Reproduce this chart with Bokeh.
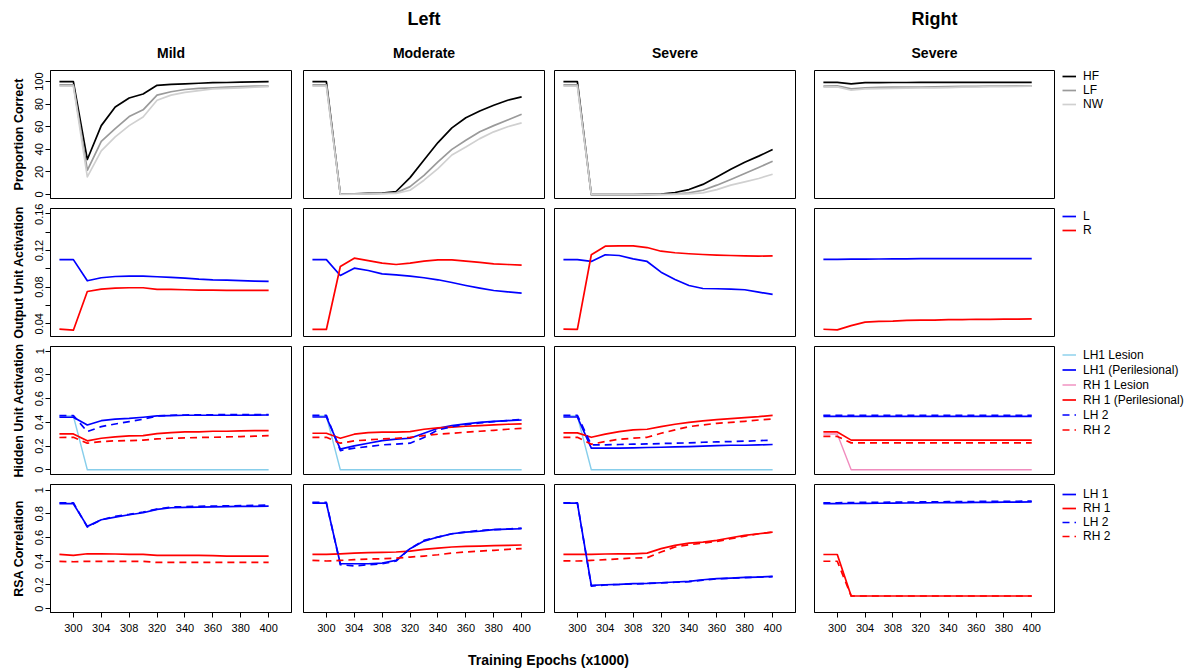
from bokeh.plotting import figure
from bokeh.layouts import column, row
from bokeh.models import Range1d, LinearAxis, FixedTicker, Title, Legend, LegendItem
from bokeh.embed import file_html
from bokeh.resources import INLINE

FONT = "Liberation Sans"

# ---------------- data ----------------
epochs = [298, 300, 302, 304, 306, 308, 310, 320, 330, 340, 350, 360, 370, 380, 390, 400]
x_tick_labels = ["300", "304", "308", "320", "340", "360", "380", "400"]
severity = ["Mild", "Moderate", "Severe", "Severe"]
hemisphere_titles = {1: "Left", 3: "Right"}
row_labels = ["Proportion Correct", "Output Unit Activation", "Hidden Unit Activation", "RSA Correlation"]

# Proportion correct
mild_hf = [100, 100, 31, 61, 77.5, 85.5, 89, 96.7, 97.5, 98, 98.5, 99, 99.2, 99.5, 99.7, 100]
mild_lf = [97, 97, 21.5, 47, 58.4, 69, 75, 88, 91, 93, 94, 94.5, 95, 95.5, 96, 96]
mild_nw = [96, 96, 15.6, 38.6, 51, 61, 68.7, 83.5, 88, 90.5, 92, 93.5, 94, 94.5, 95, 95.5]
mod_hf = [100, 100, 0.3, 0.6, 1, 1.3, 2.7, 15, 30.5, 46, 59, 68, 74, 79, 83.5, 86.4]
mod_lf = [97, 97, 0.3, 0.5, 0.8, 1, 1.5, 7, 17, 29, 40, 48, 55.5, 61, 66, 71]
mod_nw = [96, 96, 0.2, 0.3, 0.5, 0.7, 1, 3.8, 12.7, 23, 35, 42, 49.5, 55.5, 60, 63.4]
sev_hf = [100, 100, 0, 0, 0, 0, 0.1, 0.3, 1.8, 4.4, 9, 15.6, 22.4, 28.6, 34, 39.8]
sev_lf = [97, 97, 0, 0, 0, 0, 0, 0.1, 0.5, 1.5, 3.8, 8.3, 13.3, 18.6, 24, 29.5]
sev_nw = [96, 96, 0, 0, 0, 0, 0, 0, 0.2, 0.6, 1.5, 4.4, 8.3, 11.2, 14.2, 18]
right_hf = [99.3, 99.3, 98, 99, 99, 99.2, 99.2, 99.3, 99.3, 99.3, 99.3, 99.3, 99.3, 99.3, 99.3, 99.3]
right_lf = [96, 96.3, 93.5, 94.5, 94.8, 95, 95, 95.2, 95.3, 95.5, 95.7, 95.8, 96, 96, 96.2, 96.2]
right_nw = [95, 95.3, 92.3, 93.5, 93.8, 94, 94.2, 94.3, 94.5, 94.7, 95, 95.2, 95.5, 95.6, 95.8, 96]

# Output unit activation
mild_out_l = [0.110, 0.110, 0.0869, 0.0902, 0.0916, 0.092, 0.092, 0.0913, 0.0906, 0.0898, 0.0887, 0.088, 0.0877, 0.087, 0.0866, 0.0862]
mild_out_r = [0.0341, 0.033, 0.0752, 0.0778, 0.0789, 0.0793, 0.0793, 0.0775, 0.0775, 0.0771, 0.0767, 0.0767, 0.0764, 0.0764, 0.0764, 0.0764]
mod_out_l = [0.110, 0.110, 0.0927, 0.1007, 0.0981, 0.0945, 0.0934, 0.0920, 0.0902, 0.088, 0.085, 0.0818, 0.0789, 0.0763, 0.0749, 0.0734]
mod_out_r = [0.0338, 0.0338, 0.1025, 0.1116, 0.109, 0.1061, 0.1047, 0.1061, 0.1083, 0.1098, 0.1098, 0.1083, 0.1069, 0.1054, 0.1047, 0.1039]
sev_out_l = [0.110, 0.110, 0.108, 0.1153, 0.1145, 0.1109, 0.108, 0.0963, 0.0883, 0.0818, 0.0785, 0.0782, 0.0778, 0.0771, 0.0745, 0.072]
sev_out_r = [0.0341, 0.0338, 0.1153, 0.1247, 0.125, 0.125, 0.1232, 0.1192, 0.1175, 0.1164, 0.1156, 0.1149, 0.1145, 0.1142, 0.1138, 0.1142]
right_out_l = [0.1103, 0.1103, 0.1105, 0.1106, 0.1107, 0.1108, 0.1109, 0.111, 0.111, 0.111, 0.111, 0.111, 0.111, 0.111, 0.111, 0.111]
right_out_r = [0.034, 0.0333, 0.038, 0.0418, 0.0425, 0.0429, 0.0437, 0.044, 0.044, 0.0446, 0.0446, 0.0449, 0.0447, 0.0451, 0.0451, 0.0453]

# Hidden unit activation
mild_lh1_lesion = [0.454, 0.454, 0, 0, 0, 0, 0, 0, 0, 0, 0, 0, 0, 0, 0, 0]
mild_lh1 = [0.443, 0.443, 0.378, 0.414, 0.428, 0.434, 0.443, 0.454, 0.457, 0.46, 0.46, 0.46, 0.46, 0.46, 0.461, 0.462]
mild_rh1 = [0.302, 0.302, 0.244, 0.266, 0.277, 0.286, 0.288, 0.305, 0.314, 0.319, 0.319, 0.325, 0.325, 0.328, 0.33, 0.33]
mild_lh2 = [0.457, 0.457, 0.322, 0.364, 0.386, 0.406, 0.426, 0.454, 0.46, 0.462, 0.463, 0.464, 0.465, 0.465, 0.465, 0.465]
mild_rh2 = [0.272, 0.274, 0.224, 0.238, 0.244, 0.246, 0.25, 0.26, 0.266, 0.269, 0.272, 0.274, 0.277, 0.28, 0.283, 0.288]
mod_lh1_lesion = [0.454, 0.454, 0, 0, 0, 0, 0, 0, 0, 0, 0, 0, 0, 0, 0, 0]
mod_lh1 = [0.445, 0.445, 0.174, 0.202, 0.224, 0.246, 0.258, 0.266, 0.308, 0.35, 0.372, 0.387, 0.4, 0.409, 0.415, 0.42]
mod_rh1 = [0.308, 0.308, 0.266, 0.3, 0.314, 0.317, 0.317, 0.322, 0.342, 0.353, 0.359, 0.367, 0.373, 0.378, 0.384, 0.387]
mod_lh2 = [0.459, 0.459, 0.162, 0.182, 0.196, 0.21, 0.216, 0.224, 0.272, 0.336, 0.364, 0.381, 0.395, 0.406, 0.415, 0.426]
mod_rh2 = [0.274, 0.274, 0.224, 0.244, 0.252, 0.26, 0.266, 0.274, 0.288, 0.3, 0.308, 0.317, 0.325, 0.333, 0.342, 0.35]
sev_lh1_lesion = [0.454, 0.454, 0, 0, 0, 0, 0, 0, 0, 0, 0, 0, 0, 0, 0, 0]
sev_lh1 = [0.445, 0.445, 0.182, 0.182, 0.182, 0.185, 0.188, 0.19, 0.193, 0.196, 0.199, 0.204, 0.207, 0.207, 0.21, 0.213]
sev_rh1 = [0.311, 0.311, 0.274, 0.3, 0.322, 0.336, 0.342, 0.364, 0.384, 0.4, 0.412, 0.423, 0.431, 0.44, 0.448, 0.459]
sev_lh2 = [0.459, 0.459, 0.21, 0.21, 0.213, 0.216, 0.218, 0.221, 0.224, 0.227, 0.232, 0.235, 0.238, 0.241, 0.246, 0.249]
sev_rh2 = [0.274, 0.274, 0.216, 0.238, 0.258, 0.266, 0.274, 0.308, 0.336, 0.364, 0.378, 0.392, 0.4, 0.409, 0.42, 0.429]
right_rh1_lesion = [0.302, 0.302, 0, 0, 0, 0, 0, 0, 0, 0, 0, 0, 0, 0, 0, 0]
right_lh1 = [0.45, 0.45, 0.45, 0.45, 0.45, 0.45, 0.45, 0.45, 0.45, 0.45, 0.45, 0.45, 0.45, 0.45, 0.45, 0.45]
right_rh1 = [0.319, 0.319, 0.25, 0.25, 0.25, 0.25, 0.25, 0.25, 0.25, 0.25, 0.25, 0.25, 0.25, 0.25, 0.25, 0.25]
right_lh2 = [0.46, 0.46, 0.46, 0.46, 0.46, 0.46, 0.46, 0.46, 0.46, 0.46, 0.46, 0.46, 0.46, 0.46, 0.46, 0.46]
right_rh2 = [0.281, 0.281, 0.227, 0.227, 0.227, 0.227, 0.227, 0.227, 0.227, 0.227, 0.227, 0.227, 0.227, 0.227, 0.227, 0.227]

# RSA correlation
mild_rsa_lh1 = [0.885, 0.885, 0.694, 0.75, 0.772, 0.792, 0.809, 0.837, 0.851, 0.854, 0.857, 0.858, 0.86, 0.862, 0.863, 0.865]
mild_rsa_rh1 = [0.458, 0.449, 0.463, 0.463, 0.461, 0.458, 0.458, 0.449, 0.449, 0.449, 0.449, 0.447, 0.444, 0.444, 0.444, 0.444]
mild_rsa_lh2 = [0.893, 0.893, 0.688, 0.75, 0.778, 0.795, 0.815, 0.84, 0.857, 0.86, 0.863, 0.865, 0.867, 0.869, 0.871, 0.874]
mild_rsa_rh2 = [0.399, 0.396, 0.399, 0.399, 0.399, 0.399, 0.399, 0.39, 0.39, 0.39, 0.39, 0.39, 0.39, 0.39, 0.39, 0.39]
mod_rsa_lh1 = [0.89, 0.89, 0.379, 0.379, 0.379, 0.385, 0.407, 0.506, 0.57, 0.604, 0.632, 0.646, 0.654, 0.666, 0.671, 0.674]
mod_rsa_rh1 = [0.458, 0.458, 0.463, 0.469, 0.472, 0.475, 0.478, 0.486, 0.5, 0.511, 0.52, 0.525, 0.528, 0.531, 0.534, 0.537]
mod_rsa_lh2 = [0.896, 0.896, 0.371, 0.36, 0.371, 0.379, 0.402, 0.506, 0.576, 0.604, 0.632, 0.646, 0.66, 0.666, 0.671, 0.68]
mod_rsa_rh2 = [0.407, 0.402, 0.407, 0.413, 0.419, 0.421, 0.427, 0.435, 0.444, 0.455, 0.469, 0.478, 0.486, 0.492, 0.5, 0.506]
sev_rsa_lh1 = [0.89, 0.89, 0.197, 0.202, 0.205, 0.211, 0.213, 0.219, 0.225, 0.23, 0.244, 0.253, 0.258, 0.264, 0.267, 0.272]
sev_rsa_rh1 = [0.458, 0.458, 0.458, 0.461, 0.463, 0.463, 0.469, 0.506, 0.534, 0.553, 0.562, 0.576, 0.598, 0.618, 0.632, 0.646]
sev_rsa_lh2 = [0.893, 0.893, 0.191, 0.2, 0.204, 0.209, 0.212, 0.218, 0.223, 0.228, 0.241, 0.251, 0.256, 0.262, 0.266, 0.27]
sev_rsa_rh2 = [0.404, 0.402, 0.407, 0.413, 0.421, 0.427, 0.43, 0.478, 0.52, 0.539, 0.553, 0.567, 0.59, 0.612, 0.632, 0.646]
right_rsa_lh1 = [0.885, 0.885, 0.887, 0.888, 0.889, 0.89, 0.891, 0.892, 0.893, 0.894, 0.895, 0.896, 0.897, 0.898, 0.899, 0.9]
right_rsa_rh1 = [0.457, 0.457, 0.107, 0.107, 0.107, 0.107, 0.107, 0.107, 0.107, 0.107, 0.107, 0.107, 0.107, 0.107, 0.107, 0.107]
right_rsa_lh2 = [0.893, 0.893, 0.895, 0.896, 0.897, 0.898, 0.899, 0.9, 0.901, 0.902, 0.903, 0.904, 0.905, 0.905, 0.906, 0.907]
right_rsa_rh2 = [0.4, 0.4, 0.107, 0.107, 0.107, 0.107, 0.107, 0.107, 0.107, 0.107, 0.107, 0.107, 0.107, 0.107, 0.107, 0.107]

# ---------------- series organisation ----------------
panel_series = [
    [  # proportion correct
        [("HF", mild_hf), ("LF", mild_lf), ("NW", mild_nw)],
        [("HF", mod_hf), ("LF", mod_lf), ("NW", mod_nw)],
        [("HF", sev_hf), ("LF", sev_lf), ("NW", sev_nw)],
        [("HF", right_hf), ("LF", right_lf), ("NW", right_nw)],
    ],
    [  # output units
        [("L", mild_out_l), ("R", mild_out_r)],
        [("L", mod_out_l), ("R", mod_out_r)],
        [("L", sev_out_l), ("R", sev_out_r)],
        [("L", right_out_l), ("R", right_out_r)],
    ],
    [  # hidden units
        [("LH1 Lesion", mild_lh1_lesion), ("LH1 (Perilesional)", mild_lh1), ("RH 1 (Perilesional)", mild_rh1), ("LH 2", mild_lh2), ("RH 2", mild_rh2)],
        [("LH1 Lesion", mod_lh1_lesion), ("LH1 (Perilesional)", mod_lh1), ("RH 1 (Perilesional)", mod_rh1), ("LH 2", mod_lh2), ("RH 2", mod_rh2)],
        [("LH1 Lesion", sev_lh1_lesion), ("LH1 (Perilesional)", sev_lh1), ("RH 1 (Perilesional)", sev_rh1), ("LH 2", sev_lh2), ("RH 2", sev_rh2)],
        [("RH 1 Lesion", right_rh1_lesion), ("LH1 (Perilesional)", right_lh1), ("RH 1 (Perilesional)", right_rh1), ("LH 2", right_lh2), ("RH 2", right_rh2)],
    ],
    [  # RSA
        [("LH 1", mild_rsa_lh1), ("RH 1", mild_rsa_rh1), ("LH 2", mild_rsa_lh2), ("RH 2", mild_rsa_rh2)],
        [("LH 1", mod_rsa_lh1), ("RH 1", mod_rsa_rh1), ("LH 2", mod_rsa_lh2), ("RH 2", mod_rsa_rh2)],
        [("LH 1", sev_rsa_lh1), ("RH 1", sev_rsa_rh1), ("LH 2", sev_rsa_lh2), ("RH 2", sev_rsa_rh2)],
        [("LH 1", right_rsa_lh1), ("RH 1", right_rsa_rh1), ("LH 2", right_rsa_lh2), ("RH 2", right_rsa_rh2)],
    ],
]

legend_order = [
    ["HF", "LF", "NW"],
    ["L", "R"],
    ["LH1 Lesion", "LH1 (Perilesional)", "RH 1 Lesion", "RH 1 (Perilesional)", "LH 2", "RH 2"],
    ["LH 1", "RH 1", "LH 2", "RH 2"],
]

series_style = {
    "HF": dict(line_color="black", line_width=1.7),
    "LF": dict(line_color="#9a9a9a", line_width=1.7),
    "NW": dict(line_color="#d0d0d0", line_width=1.7),
    "L": dict(line_color="blue", line_width=1.7),
    "R": dict(line_color="red", line_width=1.7),
    "LH1 Lesion": dict(line_color="skyblue", line_width=1.4),
    "RH 1 Lesion": dict(line_color="#f08cbe", line_width=1.4),
    "LH1 (Perilesional)": dict(line_color="blue", line_width=1.7),
    "RH 1 (Perilesional)": dict(line_color="red", line_width=1.7),
    "LH 1": dict(line_color="blue", line_width=1.7),
    "RH 1": dict(line_color="red", line_width=1.7),
    "LH 2": dict(line_color="blue", line_width=1.7, line_dash="7 5"),
    "RH 2": dict(line_color="red", line_width=1.7, line_dash="7 5"),
}

y_ranges = [(-3.5, 109.8), (0.0261, 0.1658), (-0.04, 1.04), (-0.032, 1.047)]
y_major = [[0, 20, 40, 60, 80, 100], [0.04, 0.08, 0.12, 0.16], [0, 0.2, 0.4, 0.6, 0.8, 1], [0, 0.2, 0.4, 0.6, 0.8, 1]]
y_minor = [[], [0.06, 0.10, 0.14], [], []]
y_labels = [["0", "20", "40", "60", "80", "100"], ["0.04", "0.08", "0.12", "0.16"],
            ["0", "0.2", "0.4", "0.6", "0.8", "1"], ["0", "0.2", "0.4", "0.6", "0.8", "1"]]

# ---------------- layout geometry ----------------
col_borders = [(50, 6), (6, 4), (6, 9), (10, 133)]
col_frame_w = [241, 241, 241, 240]
row_borders = [(70, 5), (5, 5), (5, 5), (5, 35)]
FRAME_H = 128
legend_row_h = [14, 14, 15, 14]
legend_top_offset = [-1, 1, 1, 3]

xs = list(range(len(epochs)))
x_tick_pos = [epochs.index(int(t)) for t in x_tick_labels]
no_values = [float("nan")] * len(xs)   # legend-only series (not drawn in this panel)


def style_axis(ax):
    ax.axis_line_color = "black"
    ax.axis_line_width = 1
    ax.major_tick_line_color = "black"
    ax.major_tick_out = 5
    ax.major_tick_in = 0
    ax.minor_tick_line_color = "black"
    ax.minor_tick_out = 5
    ax.minor_tick_in = 0
    ax.major_label_text_font = FONT
    ax.major_label_text_font_size = "11px"
    ax.major_label_text_color = "black"
    ax.axis_label_text_font = FONT
    ax.axis_label_text_font_style = "bold"
    ax.axis_label_text_font_size = "12.5px"
    ax.axis_label_text_color = "black"


rows = []
for ri in range(4):
    figs = []
    for ci in range(4):
        bl, br = col_borders[ci]
        bt, bb = row_borders[ri]
        p = figure(frame_width=col_frame_w[ci], frame_height=FRAME_H,
                   min_border_left=bl, min_border_right=br,
                   min_border_top=bt, min_border_bottom=bb,
                   x_range=Range1d(-0.64, len(epochs) + 0.64),
                   y_range=Range1d(*y_ranges[ri]),
                   x_axis_location=None, y_axis_location=None,
                   title=None, toolbar_location=None, output_backend="svg")
        p.xgrid.visible = False
        p.ygrid.visible = False
        p.outline_line_color = "black"
        p.outline_line_width = 1
        p.outline_line_alpha = 1
        p.background_fill_color = "white"
        p.border_fill_color = "white"

        renderers = {}
        for name, vals in panel_series[ri][ci]:
            r = p.line(xs, vals, line_join="round", **series_style[name])
            renderers[name] = r

        if ci == 0:
            ax = LinearAxis(ticker=FixedTicker(ticks=y_major[ri], minor_ticks=y_minor[ri]),
                            major_label_overrides={v: s for v, s in zip(y_major[ri], y_labels[ri])},
                            axis_label=row_labels[ri], major_label_orientation="vertical",
                            major_label_standoff=2, axis_label_standoff=7)
            style_axis(ax)
            p.add_layout(ax, "left")
        if ri == 3:
            ax = LinearAxis(ticker=FixedTicker(ticks=x_tick_pos),
                            major_label_overrides={v: s for v, s in zip(x_tick_pos, x_tick_labels)},
                            major_label_standoff=6)
            style_axis(ax)
            p.add_layout(ax, "below")
        if ri == 0:
            p.add_layout(Title(text=severity[ci], align="center", text_font=FONT, text_color="black",
                               text_font_size="14px", text_font_style="bold", standoff=19), "above")
            if ci in hemisphere_titles:
                p.add_layout(Title(text=hemisphere_titles[ci], align="center", text_font=FONT,
                                   text_color="black", text_font_size="18px",
                                   text_font_style="bold", standoff=10), "above")
        if ci == 3:
            items = []
            for name in legend_order[ri]:
                if name not in renderers:
                    renderers[name] = p.line(xs, no_values, **series_style[name])
                items.append(LegendItem(label=name, renderers=[renderers[name]]))
            n = len(items)
            lh = legend_row_h[ri]
            loc_y = FRAME_H - n * lh - legend_top_offset[ri]
            leg = Legend(items=items, location=(8, loc_y), margin=0, padding=0, spacing=0,
                         border_line_color=None, background_fill_alpha=0,
                         label_text_font=FONT, label_text_font_size="12px", label_text_color="black",
                         label_height=lh, glyph_height=lh, glyph_width=14,
                         label_standoff=7)
            p.add_layout(leg, "right")
        figs.append(p)
    rows.append(row(*figs))

# bottom axis title
bottom = figure(frame_width=1004, frame_height=1, min_border_left=46, min_border_right=137,
                min_border_top=0, min_border_bottom=21,
                x_range=Range1d(0, 1), y_range=Range1d(0, 1),
                x_axis_location=None, y_axis_location=None, title=None,
                toolbar_location=None, output_backend="svg")
bottom.xgrid.visible = False
bottom.ygrid.visible = False
bottom.outline_line_color = None
bottom.add_layout(Title(text="Training Epochs (x1000)", align="center", text_font=FONT,
                        text_color="black", text_font_size="14px", text_font_style="bold",
                        standoff=3), "below")

layout = column(*rows, bottom)
open("out.html", "w").write(file_html(layout, INLINE))
